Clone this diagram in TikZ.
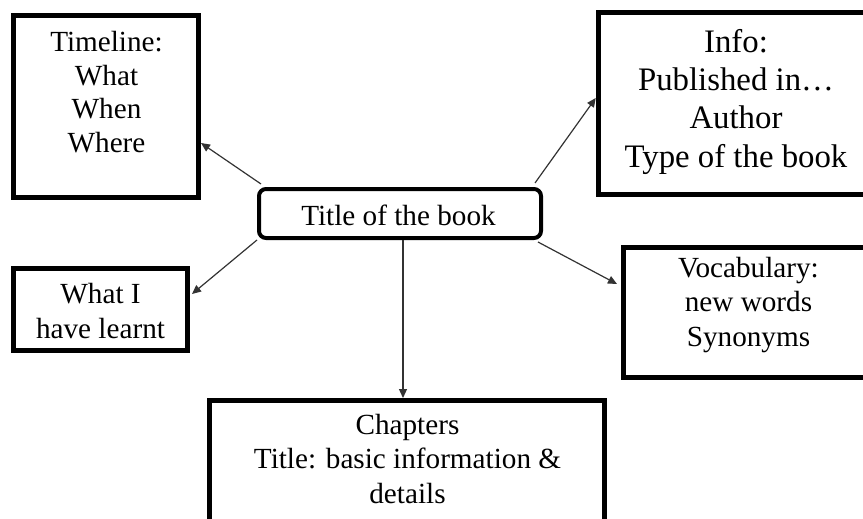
\documentclass[tikz,border=0pt]{standalone}
\usepackage{fontspec}
\setmainfont{Liberation Serif}
\usetikzlibrary{arrows.meta}
\begin{document}
\begin{tikzpicture}[x=1pt,y=-1pt,
  box/.style={draw=black, line width=5pt, inner sep=0pt, fill=white},
  hub/.style={draw=black, line width=4pt, rounded corners=7pt, inner sep=0pt, fill=white},
  % multi-line texts are placed by the baseline of their last line
  txt/.style={align=center, inner sep=0pt, anchor=base,
    font=\fontsize{29.2}{34.5}\selectfont},
  bigtxt/.style={txt, font=\fontsize{32.8}{38.3}\selectfont},
  link/.style={draw=black!80, line width=1.2pt,
    -{Triangle[length=9pt,width=8pt]}}]
\useasboundingbox (0,0) rectangle (863,519);
\clip (0,0) rectangle (863,519);

% boxes
\node[box, minimum width=185pt, minimum height=182pt] (tl) at (106,106.5) {};
\node[box, minimum width=281.5pt, minimum height=182pt] (info) at (739,103.5) {};
\node[hub, minimum width=282pt, minimum height=49pt] (title) at (400,213.5) {};
\node[box, minimum width=174pt, minimum height=82pt] (learnt) at (100.5,309.5) {};
\node[box, minimum width=256.5pt, minimum height=130pt] (vocab) at (751.75,312.5) {};
\node[box, minimum width=395pt, minimum height=137pt] (chap) at (407,469) {};

% texts
\node[txt, font=\fontsize{29.2}{33.4}\selectfont] (tltext) at (106.5,152) {Timeline:\\What\\When\\Where};
\node[bigtxt] (infotext) at (736,167) {Info:\\Published in…\\Author\\Type of the book};
\node[txt] (titletext) at (398.5,225) {Title of the book};
\node[txt] (learnttext) at (100.5,338) {What I\\have learnt};
\node[txt] (vocabtext) at (748.5,346) {Vocabulary:\\new words\\Synonyms};
\node[txt] (chaptext) at (407.5,503) {Chapters\\Title: basic information \&\\details};

% connectors
\draw[link] ([xshift=4pt,yshift=3pt]title.north west) -- ([yshift=-36.5pt]tl.east);
\draw[link] ([xshift=-8pt,yshift=4pt]title.north east) -- ([yshift=5.5pt]info.west);
\draw[link] (title.south west) -- ([xshift=2pt,yshift=15.5pt]learnt.east);
\draw[link] ([xshift=-5pt,yshift=-2pt]title.south east) -- ([xshift=-4pt,yshift=28.5pt]vocab.west);
\draw[link] ([xshift=3pt]title.south) -- ([xshift=3pt]title.south |- chap.north);
\end{tikzpicture}
\end{document}
